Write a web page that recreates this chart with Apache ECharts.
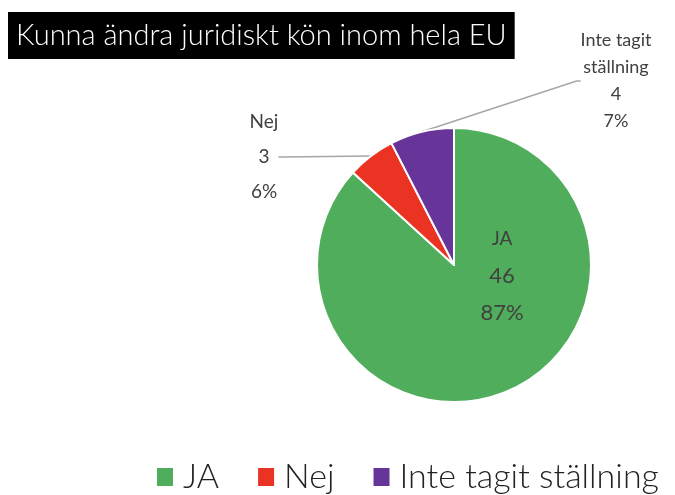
<!DOCTYPE html>
<html>
<head>
<meta charset="utf-8">
<script src="https://cdn.jsdelivr.net/npm/echarts@6/dist/echarts.min.js"></script>
<style>html,body{margin:0;padding:0;background:#fff}#c{width:675px;height:495px}</style>
</head>
<body>
<div id="c"></div>
<script>
const title = 'Kunna ändra juridiskt kön inom hela EU';
const categories = ['JA', 'Nej', 'Inte tagit ställning'];
const values = [46, 3, 4];
const percentLabels = ['87%', '6%', '7%'];
const labelNames = ['JA', 'Nej', 'Inte tagit\nställning'];
const colors = ['#4FAD5B', '#EA3323', '#67359A'];

const chart = echarts.init(document.getElementById('c'), null, {renderer: 'canvas'});

// label anchor positions (layout only)
const labelPos = [
  {x: 502, y: 276, align: 'center', verticalAlign: 'middle'},
  {x: 264, y: 157, align: 'center', verticalAlign: 'middle'},
  {x: 616, y: 74, align: 'center', verticalAlign: 'middle'}
];

const data = categories.map((c, i) => ({
  name: c,
  value: values[i],
  itemStyle: {color: colors[i]},
  label: i === 0 ? {
    position: 'inside',
    formatter: () => '{n|' + labelNames[i] + '}\n{v|' + values[i] + '}\n{v|' + percentLabels[i] + '}',
    rich: {
      n: {fontSize: 19, lineHeight: 37, color: '#404040', fontFamily: 'Lato'},
      v: {fontSize: 22, lineHeight: 37, color: '#404040', fontFamily: 'Lato'}
    }
  } : {
    position: 'outside',
    formatter: () => labelNames[i].split('\n').map(s => '{n|' + s + '}').join('\n') + '\n{v|' + values[i] + '}\n{v|' + percentLabels[i] + '}',
    rich: i === 1 ? {
      n: {fontSize: 19, lineHeight: 35, color: '#404040', fontFamily: 'Lato'},
      v: {fontSize: 19, lineHeight: 35, color: '#404040', fontFamily: 'Lato'}
    } : {
      n: {fontSize: 18, lineHeight: 27, color: '#404040', fontFamily: 'Lato'},
      v: {fontSize: 18, lineHeight: 27, color: '#404040', fontFamily: 'Lato'}
    },
    padding: i === 2 ? [14, 0, 0, 0] : 0
  },
  labelLine: i === 0 ? {show: false} : {show: true, length: 5, length2: 4, lineStyle: {color: '#A6A6A6', width: 1.5}}
}));

chart.setOption({
  animation: false,
  title: {
    text: title,
    left: 8,
    top: 12,
    padding: [9, 8, 9, 8],
    backgroundColor: '#000',
    textStyle: {color: '#fff', fontSize: 29, fontWeight: 300, fontFamily: 'Lato'}
  },
  legend: {
    left: 150,
    top: 455,
    itemWidth: 18,
    itemHeight: 20,
    itemGap: 37,
    icon: 'rect',
    data: categories,
    textStyle: {fontSize: 34, fontWeight: 300, color: '#222', fontFamily: 'Lato', padding: [0, 0, 0, 4]}
  },
  series: [{
    type: 'pie',
    center: [454, 265],
    radius: [0, 137],
    startAngle: 90,
    clockwise: true,
    avoidLabelOverlap: false,
    itemStyle: {borderColor: '#fff', borderWidth: 2},
    labelLayout: function (params) {
      const p = labelPos[params.dataIndex];
      return {x: p.x, y: p.y, align: p.align, verticalAlign: p.verticalAlign, hideOverlap: false};
    },
    data: data
  }]
});
</script>
</body>
</html>
